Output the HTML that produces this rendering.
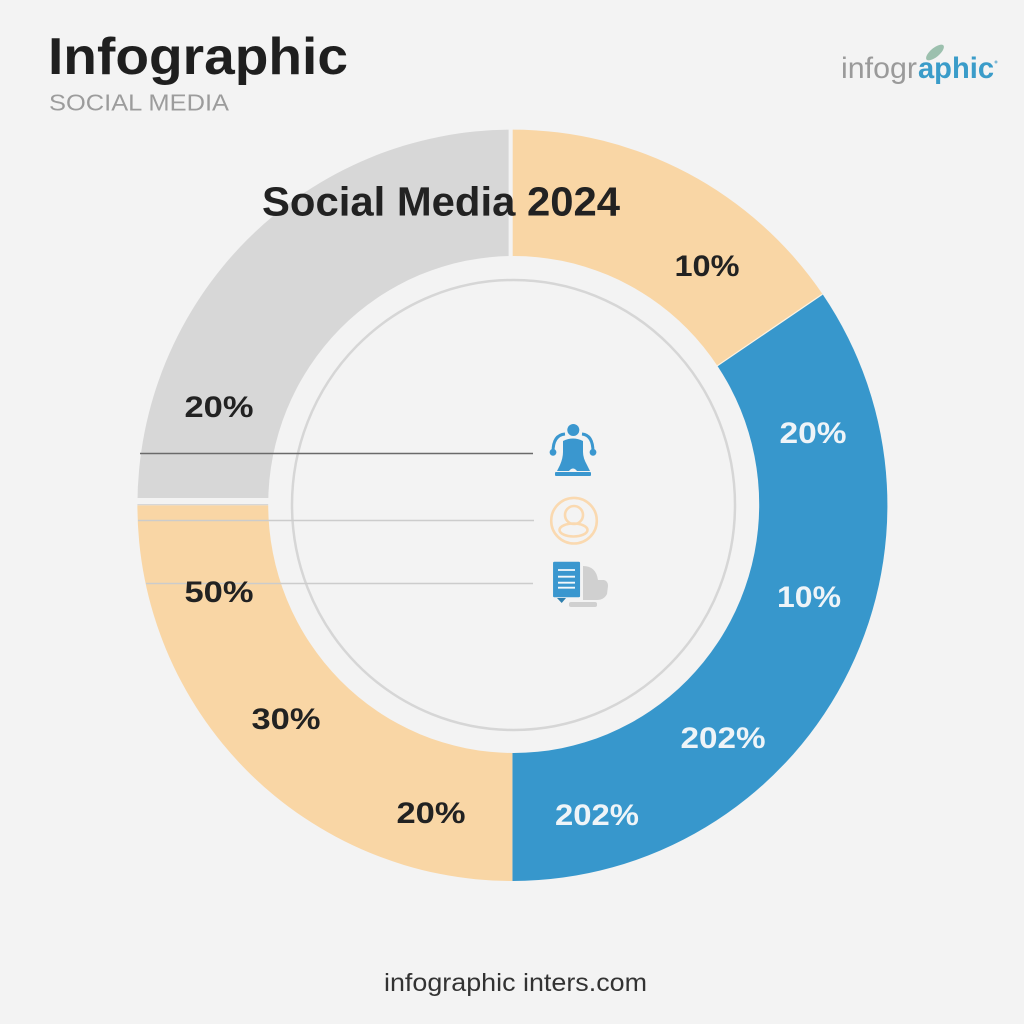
<!DOCTYPE html>
<html lang="en">
<head>
<meta charset="utf-8">
<title>Infographic Social Media 2024</title>
<style>
html,body{margin:0;padding:0;background:#f3f3f3;}
svg{display:block;}
text{font-family:"Liberation Sans",sans-serif;}
.pct{font-size:30px;font-weight:700;text-anchor:middle;}
</style>
</head>
<body>
<svg id="chart" xmlns="http://www.w3.org/2000/svg" width="1024" height="1024" viewBox="0 0 1024 1024">
  <rect width="1024" height="1024" fill="#f3f3f3"/>
  <g id="slices"></g>
  <rect x="130" y="498" width="145" height="6" fill="#f3f3f3"/>
  <rect x="508.6" y="124" width="4.1" height="140" fill="#f3f3f3"/>
  <ellipse cx="513.7" cy="504.5" rx="245.5" ry="248.5" fill="#f3f3f3"/>
  <ellipse cx="513.5" cy="505" rx="221.5" ry="225" fill="none" stroke="#d6d6d6" stroke-width="2.5"/>

  <line x1="140" y1="453.5" x2="533" y2="453.5" stroke="#6a6a6a" stroke-width="1.6"/>
  <line x1="138" y1="520.5" x2="534" y2="520.5" stroke="#cccccc" stroke-width="1.6"/>
  <line x1="146" y1="583.5" x2="533" y2="583.5" stroke="#cccccc" stroke-width="1.6"/>

  <text x="48" y="74" font-size="52" font-weight="700" fill="#1f1f1f" textLength="300" lengthAdjust="spacingAndGlyphs">Infographic</text>
  <text x="49" y="110.5" font-size="23.5" fill="#9c9c9c" textLength="180" lengthAdjust="spacingAndGlyphs">SOCIAL MEDIA</text>
  <text x="262" y="215.5" font-size="41" font-weight="700" fill="#222222" textLength="358" lengthAdjust="spacingAndGlyphs">Social Media 2024</text>

  <g>
    <ellipse cx="935" cy="52.5" rx="11" ry="4.5" transform="rotate(-40 935 52.5)" fill="#9cc0ae"/>
    <text x="841" y="78" font-size="30" textLength="76" lengthAdjust="spacingAndGlyphs" fill="#9a9a9a">infogr</text>
    <text x="918" y="78" font-size="30" font-weight="700" textLength="76" lengthAdjust="spacingAndGlyphs" fill="#3a9cc9">aphic</text>
    <circle cx="996" cy="62" r="1.5" fill="#7db9d6"/>
  </g>

  <g>
    <text class="pct" x="707" y="276" fill="#222222" textLength="65" lengthAdjust="spacingAndGlyphs">10%</text>
    <text class="pct" x="813" y="443" fill="#eef4f8" textLength="67" lengthAdjust="spacingAndGlyphs">20%</text>
    <text class="pct" x="809" y="607" fill="#eef4f8" textLength="64" lengthAdjust="spacingAndGlyphs">10%</text>
    <text class="pct" x="723" y="748" fill="#eef4f8" textLength="85" lengthAdjust="spacingAndGlyphs">202%</text>
    <text class="pct" x="597" y="825" fill="#eef4f8" textLength="84" lengthAdjust="spacingAndGlyphs">202%</text>
    <text class="pct" x="431" y="823" fill="#222222" textLength="69" lengthAdjust="spacingAndGlyphs">20%</text>
    <text class="pct" x="286" y="729" fill="#222222" textLength="69" lengthAdjust="spacingAndGlyphs">30%</text>
    <text class="pct" x="219" y="602" fill="#222222" textLength="69" lengthAdjust="spacingAndGlyphs">50%</text>
    <text class="pct" x="219" y="417" fill="#222222" textLength="69" lengthAdjust="spacingAndGlyphs">20%</text>
  </g>

  <g fill="#3a97cf">
    <circle cx="573.3" cy="430" r="6"/>
    <path d="M563 441 Q573 436 583 441 L583 452 Q583 458 587 465 L590 471 L577 471 Q573 466 569 471 L557 471 L560 465 Q563 458 563 452Z"/>
    <rect x="555" y="472" width="36" height="4" rx="1"/>
    <path d="M565 434 Q553 435 553 452 M582 434 Q593 435 593 452" fill="none" stroke="#3a97cf" stroke-width="3"/>
    <circle cx="553" cy="452.3" r="3.4"/>
    <circle cx="593" cy="452.3" r="3.4"/>
  </g>

  <g fill="none" stroke="#fad9b0" stroke-width="2.6">
    <circle cx="574" cy="520.7" r="22.8"/>
    <circle cx="574" cy="515" r="9"/>
    <ellipse cx="573.5" cy="530" rx="14" ry="6.5"/>
  </g>

  <g>
    <path d="M583 566 Q596 566 598 580 L604 580 Q608 581 608 586 L607 594 Q604 600 597 600 L583 600Z" fill="#d0d0d0"/>
    <rect x="569" y="602" width="28" height="5" rx="2" fill="#d0d0d0"/>
    <rect x="552.3" y="561" width="28.5" height="37" rx="2" fill="#3a97cf" stroke="#f3f3f3" stroke-width="1.5"/>
    <path d="M557 598 L566 598 L561.7 603Z" fill="#2f7fae"/>
    <path d="M558 570H575M558 576.7H575M558 582.7H575M558 587.7H575" stroke="#f4f8fb" stroke-width="1.8" fill="none"/>
  </g>

  <text x="384" y="991" font-size="25" fill="#333333" textLength="263" lengthAdjust="spacingAndGlyphs">infographic inters.com</text>
</svg>
<script>
// Slice data, clockwise from 12 o'clock (% of the ring)
const categories = ['peach-top', 'blue', 'peach-bottom', 'gray'];
const sliceShares = [15.5, 34.5, 25, 25];

const colorFor = function (name) {
  if (name.indexOf('peach') === 0) return '#f9d6a5';
  if (name === 'blue') return '#3797cc';
  return '#d7d7d7';
};

const outer = { cx: 512.4, cy: 505.3, rx: 375, ry: 375.7 };

function shareToAngle(cumulative, total) {
  return cumulative / total * 2 * Math.PI;
}
function onRing(ring, a) {
  return [ring.cx + ring.rx * Math.sin(a), ring.cy - ring.ry * Math.cos(a)];
}

const svgNS = 'http://www.w3.org/2000/svg';
const group = document.getElementById('slices');
const total = sliceShares.reduce(function (s, v) { return s + v; }, 0);
let running = 0;
sliceShares.forEach(function (v, i) {
  const a0 = shareToAngle(running, total);
  running += v;
  const a1 = shareToAngle(running, total);
  const large = a1 - a0 > Math.PI ? 1 : 0;
  const p0 = onRing(outer, a0), p1 = onRing(outer, a1);
  const d = 'M' + outer.cx + ' ' + outer.cy +
    ' L' + p0[0] + ' ' + p0[1] +
    ' A' + outer.rx + ' ' + outer.ry + ' 0 ' + large + ' 1 ' + p1[0] + ' ' + p1[1] + ' Z';
  const el = document.createElementNS(svgNS, 'path');
  el.setAttribute('d', d);
  el.setAttribute('fill', colorFor(categories[i]));
  
  
  group.appendChild(el);
});

// Thin light seam between the first two slices; the hole covers its inner end
const seamAngle = shareToAngle(sliceShares[0], total);
const seamOut = onRing(outer, seamAngle);
const seam = document.createElementNS(svgNS, 'line');
seam.setAttribute('x1', seamOut[0]);
seam.setAttribute('y1', seamOut[1]);
seam.setAttribute('x2', outer.cx);
seam.setAttribute('y2', outer.cy);
seam.setAttribute('stroke', '#fdf3e3');
seam.setAttribute('stroke-width', '1.2');


group.appendChild(seam);
</script>
</body>
</html>
